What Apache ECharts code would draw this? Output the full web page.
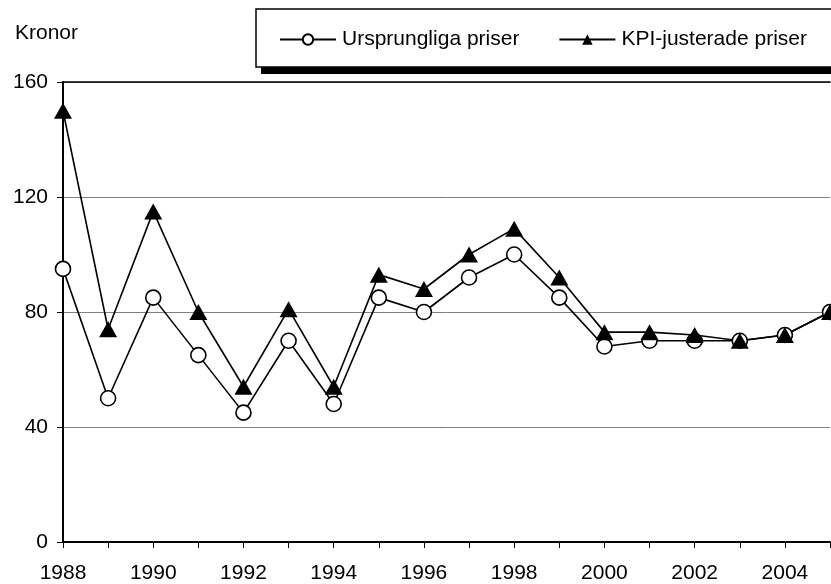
<!DOCTYPE html>
<html>
<head>
<meta charset="utf-8">
<script src="https://cdn.jsdelivr.net/npm/echarts@6/dist/echarts.min.js"></script>
<style>
  html, body { margin: 0; padding: 0; background: #fff; }
  #chart { width: 831px; height: 584px; }
</style>
</head>
<body>
<div id="chart"></div>
<script>
// år och priser (kronor)
var years = ['1988','1989','1990','1991','1992','1993','1994','1995','1996','1997',
             '1998','1999','2000','2001','2002','2003','2004','2005'];
var ursprungliga = [95, 50, 85, 65, 45, 70, 48, 85, 80, 92, 100, 85, 68, 70, 70, 70, 72, 80];
var kpiJusterade = [150, 74, 115, 80, 54, 81, 54, 93, 88, 100, 109, 92, 73, 73, 72, 70, 72, 80];
var yTicks = { min: 0, max: 160, step: 40 };

var font = 'Liberation Sans, Arial, Helvetica, sans-serif';
var chart = echarts.init(document.getElementById('chart'));

chart.setOption({
  animation: false,
  backgroundColor: '#fff',
  title: {
    text: 'Kronor', left: 10, top: 18,
    textStyle: { fontFamily: font, fontSize: 21, fontWeight: 'normal', color: '#000' }
  },
  graphic: [
    // skugga och ram runt förklaringen
    { type: 'rect', z: 1, shape: { x: 261, y: 15, width: 620, height: 59 }, style: { fill: '#000' } },
    { type: 'rect', z: 2, shape: { x: 256, y: 9, width: 620, height: 58 },
      style: { fill: '#fff', stroke: '#000', lineWidth: 1.5 } }
  ],
  legend: {
    left: 274, top: 24, z: 5,
    itemWidth: 56, itemHeight: 13, itemGap: 39,
    textStyle: { fontFamily: font, fontSize: 21, color: '#000', padding: [0, 0, 0, 1] },
    data: ['Ursprungliga priser', 'KPI-justerade priser']
  },
  grid: { left: 63, right: 1, top: 82, bottom: 40 },
  xAxis: [{
    type: 'category', data: years, boundaryGap: false,
    axisLine: { lineStyle: { color: '#000', width: 2 } },
    axisTick: { interval: 0, length: 6, lineStyle: { color: '#000', width: 1 } },
    axisLabel: { interval: 1, margin: 21, fontFamily: font, fontSize: 21, color: '#000' }
  }, {
    type: 'category', data: years, boundaryGap: false, position: 'top',
    axisLine: { lineStyle: { color: '#000', width: 1.5 } },
    axisTick: { show: false }, axisLabel: { show: false }
  }],
  yAxis: {
    type: 'value', min: yTicks.min, max: yTicks.max, interval: yTicks.step,
    axisLine: { show: true, lineStyle: { color: '#000', width: 2 } },
    axisTick: { show: true, length: 6, lineStyle: { color: '#000', width: 1 } },
    axisLabel: { margin: 15, fontFamily: font, fontSize: 21, color: '#000' },
    splitLine: { lineStyle: { color: '#808080', width: 1 } }
  },
  series: [{
    name: 'Ursprungliga priser', type: 'line', data: ursprungliga,
    symbol: 'circle', symbolSize: 15,
    lineStyle: { color: '#000', width: 1.6 },
    itemStyle: { color: '#fff', borderColor: '#000', borderWidth: 1.6 }
  }, {
    name: 'KPI-justerade priser', type: 'line', data: kpiJusterade,
    symbol: 'triangle', symbolSize: [18, 16],
    lineStyle: { color: '#000', width: 1.6 },
    itemStyle: { color: '#000', borderColor: '#000', borderWidth: 0 }
  }]
});
</script>
</body>
</html>
